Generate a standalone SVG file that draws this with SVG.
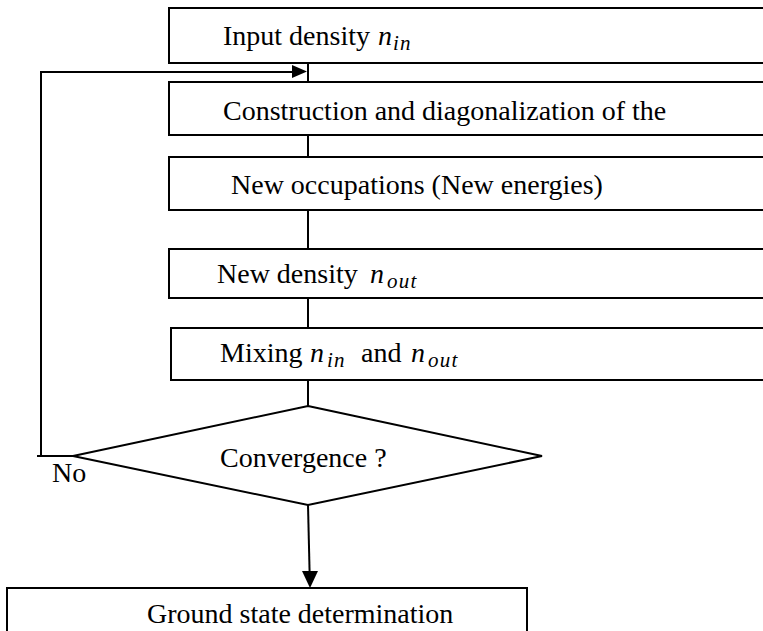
<svg xmlns="http://www.w3.org/2000/svg" width="763" height="631" viewBox="0 0 763 631">
<defs>
<style>
.box{fill:#fff;stroke:#000;stroke-width:2}
.ln{fill:none;stroke:#000;stroke-width:2}
.t{font-family:"Liberation Serif","Times New Roman",serif;font-size:28px;fill:#000}
.m{font-style:italic}
.s{font-size:21px;font-style:italic;letter-spacing:1.2px}
</style>
</defs>
<g id="connectors">
<path class="ln" d="M37,456 H73 M41,456 V72 H292"/>
<path d="M292,65 L307,71.5 L292,78 Z" fill="#000"/>
<path class="ln" d="M308,63 V82 M308,135 V157 M308,210 V249 M308,298 V328 M308,380 V406"/>
<path class="ln" d="M308,505 L309.6,572"/>
<path d="M302,571 L318,571 L310,588 Z" fill="#000"/>
</g>
<g id="n1"><rect class="box" x="169" y="8" width="640" height="55"/>
<text class="t" y="45"><tspan x="223">Input density </tspan><tspan class="m" x="378">n</tspan><tspan class="s" x="393" dy="5">in</tspan></text></g>
<g id="n2"><rect class="box" x="169" y="82" width="640" height="53"/>
<text class="t" x="223" y="120">Construction and diagonalization of the</text></g>
<g id="n3"><rect class="box" x="169" y="157" width="640" height="53"/>
<text class="t" x="231" y="194">New occupations (New energies)</text></g>
<g id="n4"><rect class="box" x="169" y="249" width="640" height="49"/>
<text class="t" y="283"><tspan x="217">New density </tspan><tspan class="m" x="370">n</tspan><tspan class="s" x="387" dy="5">out</tspan></text></g>
<g id="n5"><rect class="box" x="171" y="328" width="640" height="52"/>
<text class="t" y="362"><tspan x="220">Mixing </tspan><tspan class="m" x="310">n</tspan><tspan class="s" x="327" dy="5">in</tspan><tspan x="361" dy="-5">and </tspan><tspan class="m" x="411">n</tspan><tspan class="s" x="428" dy="5">out</tspan></text></g>
<g id="n6"><polygon class="box" points="308,406 542,456 308,505 73,456"/>
<text class="t" x="220" y="467">Convergence ?</text></g>
<g id="lbl"><text class="t" x="52" y="482">No</text></g>
<g id="n7"><rect class="box" x="7" y="588" width="520" height="60"/>
<text class="t" x="147" y="623">Ground state determination</text></g>
</svg>
